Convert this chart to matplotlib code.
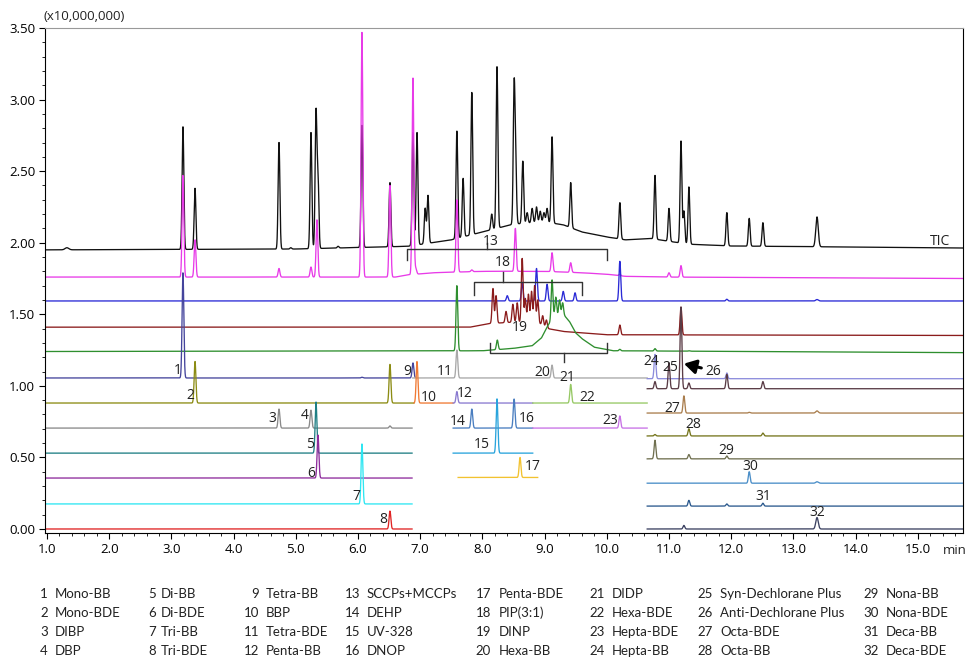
import numpy as np
import matplotlib
matplotlib.use("Agg")
import matplotlib.pyplot as plt
from matplotlib.ticker import MultipleLocator, FormatStrFormatter
from matplotlib import font_manager

# ---------------- data ----------------
# full-width traces
tic_base_t = [1.0, 5.0, 6.8, 7.5, 8.0, 8.5, 9.0, 9.3, 9.6, 10.0, 10.3, 10.7, 11.3, 12.0, 15.73]
tic_base_v = [1.95, 1.956, 1.975, 2.02, 2.075, 2.13, 2.145, 2.125, 2.075, 2.04, 2.02, 2.03, 1.99, 1.977, 1.963]
tic_pk_t = [1.32, 3.186, 3.38, 4.73, 4.92, 5.244, 5.325, 5.357, 5.68, 6.064, 6.514, 6.884, 6.949,
            7.08, 7.125, 7.59, 7.69, 7.83, 8.15, 8.235, 8.51, 8.535, 8.65, 8.72, 8.80, 8.87, 8.93,
            8.99, 9.04, 9.12, 9.42, 10.21, 10.775, 11.0, 11.193, 11.24, 11.32, 11.93, 12.29, 12.51, 13.38]
tic_pk_v = [1.965, 2.81, 2.38, 2.70, 1.965, 2.77, 2.90, 2.45, 1.975, 2.82, 2.42, 2.77, 2.77,
            2.24, 2.33, 2.78, 2.45, 3.05, 2.20, 3.23, 3.06, 2.52, 2.57, 2.21, 2.24, 2.25, 2.22,
            2.21, 2.24, 2.74, 2.42, 2.28, 2.47, 2.24, 2.71, 2.22, 2.39, 2.21, 2.17, 2.14, 2.18]

mag_base_t = [1.0, 6.6, 6.8, 7.2, 8.0, 9.0, 9.6, 10.0, 10.3, 11.0, 15.73]
mag_base_v = [1.76, 1.76, 1.775, 1.79, 1.80, 1.80, 1.79, 1.78, 1.765, 1.76, 1.75]
mag_pk_t = [3.186, 3.38, 4.73, 5.244, 5.34, 6.064, 6.514, 6.884, 6.93, 7.59, 7.83, 8.53, 9.12, 9.42, 10.21, 11.0, 11.193]
mag_pk_v = [2.47, 2.02, 1.82, 1.83, 2.16, 3.47, 2.40, 3.15, 1.82, 2.30, 1.81, 2.10, 1.93, 1.86, 1.78, 1.79, 1.84]

blue_base = 1.593
blue_pk_t = [8.40, 8.64, 8.87, 9.04, 9.30, 9.49, 10.21, 11.93, 13.38]
blue_pk_v = [1.63, 1.72, 1.82, 1.71, 1.66, 1.65, 1.87, 1.605, 1.603]

mar_base_t = [1.0, 7.8, 8.1, 8.5, 8.9, 9.05, 9.3, 9.6, 10.0, 15.73]
mar_base_v = [1.41, 1.41, 1.435, 1.445, 1.44, 1.40, 1.38, 1.37, 1.357, 1.352]
mar_pk_t = [8.17, 8.22, 8.38, 8.49, 8.56, 8.64, 8.69, 8.74, 8.79, 8.84, 8.89, 8.97, 9.03, 10.21, 11.193]
mar_pk_v = [1.68, 1.63, 1.52, 1.57, 1.58, 1.89, 1.61, 1.64, 1.66, 1.70, 1.60, 1.49, 1.46, 1.425, 1.55]

grn_base_t = [1.0, 8.0, 8.5, 8.8, 8.95, 9.05, 9.15, 9.3, 9.4, 9.5, 9.6, 9.8, 10.1, 15.73]
grn_base_v = [1.24, 1.245, 1.262, 1.28, 1.335, 1.42, 1.48, 1.50, 1.45, 1.37, 1.33, 1.27, 1.245, 1.232]
grn_pk_t = [7.59, 8.24, 9.12, 9.18, 9.24, 9.29, 10.21, 10.775, 11.32]
grn_pk_v = [1.70, 1.32, 1.74, 1.62, 1.60, 1.58, 1.255, 1.26, 1.245]

# left block (1.0 - 6.9 min)
navy_base, navy_pk_t, navy_pk_v = 1.055, [3.186, 6.064, 6.884], [1.79, 1.06, 1.16]
oliv_base, oliv_pk_t, oliv_pk_v = 0.88, [3.38, 6.514], [1.17, 1.15]
gr34_base, gr34_pk_t, gr34_pk_v = 0.705, [4.73, 5.244, 6.514], [0.838, 0.83, 0.72]
teal_base, teal_pk_t, teal_pk_v = 0.53, [5.325], [0.887]
purp_base, purp_pk_t, purp_pk_v = 0.356, [5.357], [0.656]
cyan_base, cyan_pk_t, cyan_pk_v = 0.175, [6.064], [0.594]
red_base, red_pk_t, red_pk_v = 0.0, [6.514], [0.125]

# middle block (6.9 - 10.65 min)
gr11_base, gr11_pk_t, gr11_pk_v = 1.055, [7.59, 9.12], [1.25, 1.145]
oran_base, oran_pk_t, oran_pk_v = 0.88, [6.949], [1.17]
lv12_base, lv12_pk_t, lv12_pk_v = 0.88, [7.59], [0.96]
lg22_base, lg22_pk_t, lg22_pk_v = 0.88, [9.42], [1.01]
st14_base, st14_pk_t, st14_pk_v = 0.705, [7.83, 8.51], [0.838, 0.908]
vi23_base, vi23_pk_t, vi23_pk_v = 0.705, [10.21], [0.79]
lb15_base, lb15_pk_t, lb15_pk_v = 0.53, [8.235], [0.909]
ye17_base, ye17_pk_t, ye17_pk_v = 0.36, [8.605], [0.50]

# right block (10.65 - 15.7 min)
lv24_base, lv24_pk_t, lv24_pk_v = 1.05, [10.775, 11.93], [1.22, 1.09]
dk25_base, dk25_pk_t, dk25_pk_v = 0.98, [10.775, 11.0, 11.193, 11.32, 11.93, 12.51], [1.03, 1.16, 1.55, 1.02, 1.08, 1.03]
tn27_base, tn27_pk_t, tn27_pk_v = 0.81, [11.24, 12.29, 13.38], [0.93, 0.815, 0.825]
ol28_base, ol28_pk_t, ol28_pk_v = 0.65, [10.775, 11.32, 12.51], [0.66, 0.70, 0.67]
og29_base, og29_pk_t, og29_pk_v = 0.49, [10.775, 11.32, 11.93], [0.62, 0.52, 0.51]
st30_base, st30_pk_t, st30_pk_v = 0.32, [12.29, 13.38], [0.40, 0.33]
db31_base, db31_pk_t, db31_pk_v = 0.16, [11.32, 11.93, 12.51], [0.20, 0.175, 0.18]
sl32_base, sl32_pk_t, sl32_pk_v = 0.0, [11.24, 13.38], [0.025, 0.08]

peak_labels = [str(i) for i in range(1, 33)]
label_t = [3.11, 3.30, 4.63, 5.15, 5.23, 5.24, 5.97, 6.40, 6.79, 7.14, 7.40, 7.72, 8.14, 7.61, 7.99, 8.72,
           8.81, 8.33, 8.60, 8.96, 9.36, 9.68, 10.05, 10.71, 11.02, 11.71, 11.05, 11.39, 11.92, 12.30, 12.51, 13.38]
label_v = [1.105, 0.936, 0.775, 0.79, 0.587, 0.39, 0.224, 0.063, 1.10, 0.92, 1.10, 0.95, 2.01, 0.75, 0.587, 0.77,
           0.44, 1.86, 1.41, 1.09, 1.06, 0.92, 0.755, 1.17, 1.13, 1.10, 0.84, 0.727, 0.545, 0.44, 0.224, 0.112]

compound_names = ["Mono-BB", "Mono-BDE", "DIBP", "DBP", "Di-BB", "Di-BDE", "Tri-BB", "Tri-BDE",
                  "Tetra-BB", "BBP", "Tetra-BDE", "Penta-BB", "SCCPs+MCCPs", "DEHP", "UV-328", "DNOP",
                  "Penta-BDE", "PIP(3:1)", "DINP", "Hexa-BB", "DIDP", "Hexa-BDE", "Hepta-BDE", "Hepta-BB",
                  "Syn-Dechlorane Plus", "Anti-Dechlorane Plus", "Octa-BDE", "Octa-BB", "Nona-BB", "Nona-BDE",
                  "Deca-BB", "Deca-BDE"]

# brackets: (start, end, centre, level, end level, centre tick level)
brackets = [(6.79, 10.0, 8.07, 1.956, 1.88, 2.0),
            (7.86, 9.60, 8.33, 1.726, 1.635, 1.795),
            (8.12, 10.0, 9.31, 1.23, 1.30, 1.167)]

# ---------------- drawing ----------------
T0, T1 = 0.968, 15.727
LEFT_END, MID_END = 6.87, 10.65

fig = plt.figure(figsize=(9.76, 6.6), dpi=100)
ax = fig.add_axes([45/976, 1-533/660, (963-45)/976, (533-28)/660])
ax.set_xlim(T0, T1)
ax.set_ylim(-0.028, 3.5)


def draw(t0, t1, base, pk_t, pk_v, color, wide_after=13.0):
    t = np.arange(t0, t1, 0.0015)
    if isinstance(base, tuple):
        b = np.interp(t, base[0], base[1])
        bf = lambda x: np.interp(x, base[0], base[1])
    else:
        b = np.full_like(t, base)
        bf = lambda x: base
    y = b.copy()
    for pt, pv in zip(pk_t, pk_v):
        sig = 0.02 if pt > wide_after else 0.014
        if pt < 1.5:
            sig = 0.03
        h = pv - bf(pt)
        y += h * np.exp(-0.5 * ((t - pt) / sig) ** 2)
    ax.plot(t, y, color=color, lw=0.95, solid_joinstyle='round')


draw(T0, T1, (tic_base_t, tic_base_v), tic_pk_t, tic_pk_v, '#111111')
draw(T0, T1, (mag_base_t, mag_base_v), mag_pk_t, mag_pk_v, '#e83be8')
draw(T0, T1, blue_base, blue_pk_t, blue_pk_v, '#2a2ad6')
draw(T0, T1, (mar_base_t, mar_base_v), mar_pk_t, mar_pk_v, '#8b1c1c')
draw(T0, T1, (grn_base_t, grn_base_v), grn_pk_t, grn_pk_v, '#2f8f2f')

draw(T0, 6.92, navy_base, navy_pk_t, navy_pk_v, '#45459c')
draw(6.88, MID_END, gr11_base, gr11_pk_t, gr11_pk_v, '#a8a8a8')
draw(MID_END, T1, lv24_base, lv24_pk_t, lv24_pk_v, '#8c8cdc')
draw(MID_END, T1, dk25_base, dk25_pk_t, dk25_pk_v, '#5a3c46')
draw(T0, 6.90, oliv_base, oliv_pk_t, oliv_pk_v, '#8c8c14')
draw(6.90, 7.53, oran_base, oran_pk_t, oran_pk_v, '#f07a34')
draw(7.53, 8.81, lv12_base, lv12_pk_t, lv12_pk_v, '#8a7ad0')
draw(8.81, MID_END, lg22_base, lg22_pk_t, lg22_pk_v, '#96c864')
draw(MID_END, T1, tn27_base, tn27_pk_t, tn27_pk_v, '#aa7e4e')
draw(T0, LEFT_END, gr34_base, gr34_pk_t, gr34_pk_v, '#8a8a8a')
draw(7.53, 8.81, st14_base, st14_pk_t, st14_pk_v, '#4a7ec0')
draw(8.81, MID_END, vi23_base, vi23_pk_t, vi23_pk_v, '#c872e6')
draw(MID_END, T1, ol28_base, ol28_pk_t, ol28_pk_v, '#76761e')
draw(T0, LEFT_END, teal_base, teal_pk_t, teal_pk_v, '#1f7f84')
draw(7.53, 8.81, lb15_base, lb15_pk_t, lb15_pk_v, '#2aa4dc')
draw(MID_END, T1, og29_base, og29_pk_t, og29_pk_v, '#707050')
draw(T0, LEFT_END, purp_base, purp_pk_t, purp_pk_v, '#8e2c9c')
draw(7.61, 8.89, ye17_base, ye17_pk_t, ye17_pk_v, '#f2c230')
draw(MID_END, T1, st30_base, st30_pk_t, st30_pk_v, '#4a8ec8')
draw(T0, LEFT_END, cyan_base, cyan_pk_t, cyan_pk_v, '#2ee6f2')
draw(MID_END, T1, db31_base, db31_pk_t, db31_pk_v, '#2c5a8e')
draw(T0, LEFT_END, red_base, red_pk_t, red_pk_v, '#e02424')
draw(MID_END, T1, sl32_base, sl32_pk_t, sl32_pk_v, '#3c4262')

# brackets
for (a, b, c, lev, endlev, ticklev) in brackets:
    ax.plot([a, a, b, b], [endlev, lev, lev, endlev], color='#333333', lw=1.0)
    ax.plot([c, c], [lev, ticklev], color='#333333', lw=1.0)

lab_font = dict(family=['Open Sans', 'DejaVu Sans'], fontsize=10, color='#222222')
for s, lt, lv in zip(peak_labels, label_t, label_v):
    ax.text(lt, lv, s, ha='center', va='center', **lab_font)
ax.text(15.36, 2.01, 'TIC', ha='center', va='center', **lab_font)

ax.annotate('', xy=(11.24, 1.155), xytext=(11.52, 1.125),
            arrowprops=dict(arrowstyle='-|>,head_length=0.6,head_width=0.35', color='black', lw=2.2,
                            mutation_scale=12, shrinkA=0, shrinkB=0))

# axes styling
ax.xaxis.set_major_locator(MultipleLocator(1.0))
ax.xaxis.set_minor_locator(MultipleLocator(0.2))
ax.yaxis.set_major_locator(MultipleLocator(0.5))
ax.yaxis.set_minor_locator(MultipleLocator(0.1))
ax.xaxis.set_major_formatter(FormatStrFormatter('%.1f'))
ax.yaxis.set_major_formatter(FormatStrFormatter('%.2f'))
ax.tick_params(which='major', direction='out', length=4, width=0.8, labelsize=9.5, pad=3)
ax.tick_params(which='minor', direction='out', length=2.5, width=0.6)
for lab in ax.get_xticklabels() + ax.get_yticklabels():
    lab.set_family(['Open Sans', 'DejaVu Sans'])
for sp in ['left', 'bottom', 'right']:
    ax.spines[sp].set_color('black')
    ax.spines[sp].set_linewidth(0.8)
ax.spines['top'].set_color('#999999')
ax.spines['top'].set_linewidth(0.8)

fig.text(43/976, 1-17/660, '(x10,000,000)', ha='left', va='center',
         family=['Open Sans', 'DejaVu Sans'], fontsize=9.5, color='#222222')
fig.text(955/976, 1-551/660, 'min', ha='center', va='center',
         family=['Open Sans', 'DejaVu Sans'], fontsize=9.5, color='#222222')

# legend of compounds
num_x = [48, 156, 259, 360, 491, 605, 713, 879]
name_x = [55, 161, 266, 367, 499, 612, 720, 886]
row_y = [594, 613, 632, 651]
avail = {f.name for f in font_manager.fontManager.ttflist}
leg_family = ['Liberation Sans Narrow', 'DejaVu Sans'] if 'Liberation Sans Narrow' in avail else ['Lato', 'DejaVu Sans']
for i, name in enumerate(compound_names):
    col, row = divmod(i, 4)
    y = 1 - row_y[row]/660
    fig.text(num_x[col]/976, y, str(i + 1), ha='right', va='center', family=leg_family, fontsize=9.5, color='#222222')
    fig.text(name_x[col]/976, y, name, ha='left', va='center', family=leg_family, fontsize=9.5, color='#222222')

fig.savefig('out.png', dpi=100)
